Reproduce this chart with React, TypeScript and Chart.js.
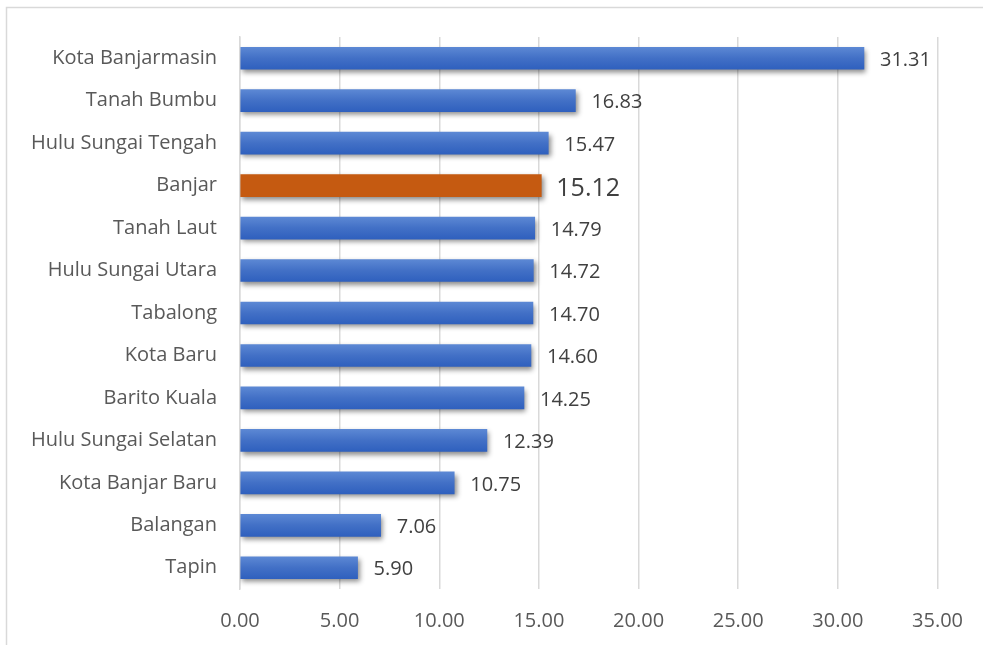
import React, { useEffect, useRef } from "react";
import { Chart, registerables } from "chart.js";

Chart.register(...registerables);

const categories = [
  "Kota Banjarmasin",
  "Tanah Bumbu",
  "Hulu Sungai Tengah",
  "Banjar",
  "Tanah Laut",
  "Hulu Sungai Utara",
  "Tabalong",
  "Kota Baru",
  "Barito Kuala",
  "Hulu Sungai Selatan",
  "Kota Banjar Baru",
  "Balangan",
  "Tapin",
];
const values = [31.31, 16.83, 15.47, 15.12, 14.79, 14.72, 14.7, 14.6, 14.25, 12.39, 10.75, 7.06, 5.9];
const highlightName = "Banjar";
const xTicks = [0, 5, 10, 15, 20, 25, 30, 35];

const FONT = "'Open Sans', 'DejaVu Sans', sans-serif";

export default function App() {
  const ref = useRef<HTMLCanvasElement | null>(null);
  useEffect(() => {
    document.body.style.margin = "0";
    const canvas = ref.current!;
    const borderPlugin = {
      id: "outerBorder",
      beforeDraw(chart: any) {
        const c = chart.ctx;
        c.save();
        c.fillStyle = "#ffffff";
        c.fillRect(0, 0, chart.width, chart.height);
        c.strokeStyle = "#d9d9d9";
        c.lineWidth = 1.5;
        c.beginPath();
        c.moveTo(6.5, chart.height);
        c.lineTo(6.5, 7.5);
        c.lineTo(chart.width, 7.5);
        c.stroke();
        c.restore();
      },
    };
    const shadowPlugin = {
      id: "barShadow",
      beforeDatasetsDraw(chart: any) {
        const c = chart.ctx;
        c.save();
        c.shadowColor = "rgba(0,0,0,0.45)";
        c.shadowBlur = 5;
        c.shadowOffsetX = 2;
        c.shadowOffsetY = 3;
      },
      afterDatasetsDraw(chart: any) {
        chart.ctx.restore();
        const c = chart.ctx;
        const meta = chart.getDatasetMeta(0);
        c.save();
        c.textBaseline = "middle";
        c.textAlign = "left";
        meta.data.forEach((bar: any, i: number) => {
          const hl = categories[i] === highlightName;
          c.fillStyle = "#404040";
          c.font = `${hl ? 25 : 20}px ${FONT}`;
          c.fillText(values[i].toFixed(2), bar.x + (hl ? 15 : 16), bar.y + (hl ? 3 : 2));
        });
        c.restore();
      },
    };
    const chart = new Chart(canvas, {
      type: "bar",
      data: {
        labels: categories,
        datasets: [
          {
            data: values,
            barThickness: 22,
            borderWidth: 0,
            backgroundColor: (ctx: any) => {
              if (categories[ctx.dataIndex] === highlightName) return "#C55A11";
              const chartRef = ctx.chart;
              const ys = chartRef.scales && chartRef.scales.y;
              if (!ys || ys.top === undefined) return "#4472C4";
              const yc = ys.getPixelForValue(ctx.dataIndex);
              if (!isFinite(yc)) return "#4472C4";
              const g = chartRef.ctx.createLinearGradient(0, yc - 11, 0, yc + 11);
              g.addColorStop(0, "#5C88D4");
              g.addColorStop(0.5, "#4270C6");
              g.addColorStop(1, "#2F60BE");
              return g;
            },
          },
        ],
      },
      options: {
        indexAxis: "y",
        animation: false,
        responsive: false,
        maintainAspectRatio: false,
        layout: { padding: { top: 37, right: 45, bottom: 0, left: 0 } },
        plugins: { legend: { display: false }, tooltip: { enabled: false } },
        scales: {
          x: {
            type: "linear",
            min: 0,
            max: 35,
            afterBuildTicks: (scale: any) => {
              scale.ticks = xTicks.map((v) => ({ value: v }));
            },
            afterFit: (scale: any) => {
              scale.height = 56;
            },
            grid: { color: "#d9d9d9", lineWidth: 1.5, drawTicks: false },
            border: { display: false },
            ticks: {
              padding: 20,
              color: "#595959",
              font: { family: FONT, size: 20 },
              callback: (v: any) => Number(v).toFixed(2),
            },
          },
          y: {
            afterFit: (scale: any) => {
              scale.width = 240;
            },
            grid: { display: false, drawTicks: false },
            border: { display: true, color: "#d9d9d9", width: 1.5 },
            ticks: {
              padding: 23,
              color: "#595959",
              font: { family: FONT, size: 20 },
            },
          },
        },
      },
      plugins: [borderPlugin, shadowPlugin],
    } as any);
    return () => chart.destroy();
  }, []);
  return <canvas ref={ref} width={983} height={645} style={{ display: "block" }} />;
}
